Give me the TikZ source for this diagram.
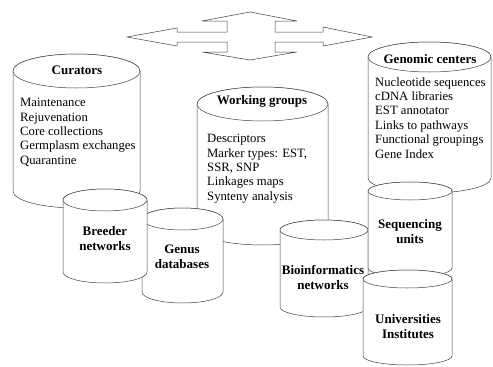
\documentclass[tikz,border=0pt]{standalone}
\usepackage{fontspec}
\setmainfont{Liberation Serif}
\usepackage{tikz}
\usetikzlibrary{positioning}
\tikzset{cyl/.style = {draw=black!75, fill=white, line width=0.5pt},
         dbtitle/.style = {font=\fontsize{13}{15}\selectfont\bfseries, align=center, inner sep=0pt},
         dblist/.style = {font=\fontsize{12.7}{14.4}\selectfont, align=left, anchor=north west, inner sep=0pt}}
% #1 left, #2 right, #3 top, #4 bottom, #5 y radius (pixels, y downwards)
\newcommand{\dbcyl}[5]{%
  \pgfmathsetmacro{\cylrx}{(#2-#1)/2}
  \pgfmathsetmacro{\cylcx}{(#2+#1)/2}
  \filldraw [cyl] (#1,-#3) -- (#1,-#4)
    arc [start angle=180, end angle=360, x radius=\cylrx, y radius=#5]
    -- (#2,-#3)
    arc [start angle=0, end angle=180, x radius=\cylrx, y radius=#5] -- cycle;
  \draw [cyl] (\cylcx,-#3) ellipse [x radius=\cylrx, y radius=#5];
}

\begin{document}
\begin{tikzpicture}[x=1pt, y=1pt]
    \useasboundingbox (0, 0) rectangle (493, -367);

    \filldraw [cyl] (127, -37) -- (177, -28) -- (177, -32) -- (227, -32) -- (227, -21)
      -- (202, -21) -- (250, -12) -- (297, -21) -- (275, -21) -- (275, -32) -- (323, -32)
      -- (323, -27) -- (372, -37) -- (323, -46) -- (323, -42) -- (275, -42) -- (275, -52)
      -- (297, -52) -- (250, -60) -- (202, -52) -- (227, -52) -- (227, -42) -- (177, -42)
      -- (177, -46) -- cycle;

    % left group
    \dbcyl{13}{140}{71}{191}{17}
    \node [dbtitle] (curators) at (77, -70) {Curators};
    \node [dblist] (curlist) at (20, -98) {Maintenance\\Rejuvenation\\Core collections\\Germplasm exchanges\\Quarantine};

    \dbcyl{197}{328}{104}{228}{17}
    \node [dbtitle] (working) at (262, -101) {Working groups};
    \node [dblist] (worklist) at (207, -134) {Descriptors\\Marker types: EST,\\SSR, SNP\\Linkages maps\\Synteny analysis};

    \dbcyl{142}{223}{219}{292}{11}
    \node [dbtitle] (genus) at (182, -257) {Genus\\databases};

    \dbcyl{63}{147}{200}{272}{11}
    \node [dbtitle] (breeder) at (105, -239) {Breeder\\networks};

    % right group
    \dbcyl{368}{491}{57}{178}{15}
    \node [dbtitle] (genomic) at (430, -59) {Genomic centers};
    \node [dblist] (genlist) at (375, -77) {Nucleotide sequences\\cDNA libraries\\EST annotator\\Links to pathways\\Functional groupings\\Gene Index};

    \dbcyl{280}{368}{230}{307}{10}
    \node [dbtitle] (bioinf) at (323, -277) {Bioinformatics\\networks};

    \dbcyl{368}{452}{191}{268}{9}
    \node [dbtitle] (sequencing) at (410, -232) {Sequencing\\units};

    \dbcyl{363}{452}{279}{356}{9}
    \node [dbtitle] (universities) at (408, -327) {Universities\\Institutes};
\end{tikzpicture}
\end{document}
